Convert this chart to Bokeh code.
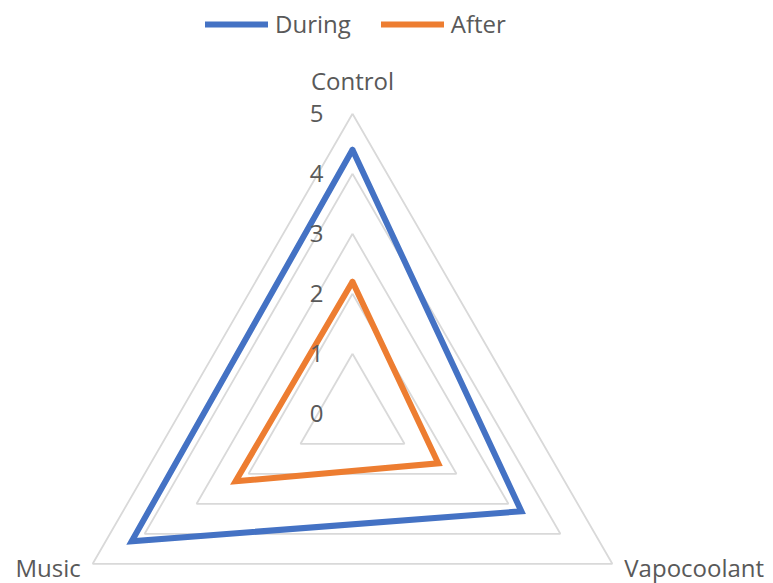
import numpy as np
from bokeh.plotting import figure
from bokeh.models import Range1d, Legend, LegendItem, ColumnDataSource
from bokeh.core.properties import value
from bokeh.embed import file_html
from bokeh.resources import INLINE

categories = ["Control", "Vapocoolant", "Music"]
during = [4.4, 3.25, 4.25]
after = [2.2, 1.65, 2.25]
ticks = [0, 1, 2, 3, 4, 5]
rmax = 5

FONT = "Open Sans"
TXT = "#595959"
W, H = 773, 583
UNIT = 60.0
CX, CY = 352.0, 413.3

angles = np.deg2rad([90, -30, 210])

def xy(vals):
    v = np.array(list(vals) + [vals[0]], dtype=float)
    a = np.concatenate([angles, angles[:1]])
    return v * np.cos(a), v * np.sin(a)

p = figure(width=W, height=H, output_backend="svg", toolbar_location=None,
           x_range=Range1d(-CX / UNIT, (W - CX) / UNIT),
           y_range=Range1d(-(H - CY) / UNIT, CY / UNIT),
           min_border=0)
p.axis.visible = False
p.xgrid.visible = False
p.ygrid.visible = False
p.outline_line_color = None
p.background_fill_color = "white"

# grid rings
for t in ticks[1:]:
    gx, gy = xy([t] * 3)
    p.line(gx, gy, line_color="#D9D9D9", line_width=1.8)

# series
dx, dy = xy(during)
ax, ay = xy(after)
r1 = p.line(dx, dy, line_color="#4472C4", line_width=6, line_join="miter")
r2 = p.line(ax, ay, line_color="#ED7D31", line_width=6, line_join="miter")

# tick labels
tsrc = ColumnDataSource(dict(x=[0] * len(ticks), y=ticks, t=[str(t) for t in ticks]))
p.text("x", "y", text="t", source=tsrc, text_font=value(FONT), text_font_size="24px",
       text_color=TXT, text_align="right", text_baseline="middle", x_offset=-29, y_offset=0)

# category labels
cx = [rmax * np.cos(a) for a in angles]
cy = [rmax * np.sin(a) for a in angles]
p.text([cx[0]], [cy[0]], text=[categories[0]], text_font=value(FONT), text_font_size="24px",
       text_color=TXT, text_align="center", text_baseline="alphabetic", y_offset=-33)
p.text([cx[1]], [cy[1]], text=[categories[1]], text_font=value(FONT), text_font_size="24px",
       text_color=TXT, text_align="left", text_baseline="alphabetic", x_offset=12, y_offset=4)
p.text([cx[2]], [cy[2]], text=[categories[2]], text_font=value(FONT), text_font_size="24px",
       text_color=TXT, text_align="right", text_baseline="alphabetic", x_offset=-12, y_offset=4)

legend = Legend(items=[LegendItem(label="During", renderers=[r1]),
                       LegendItem(label="After", renderers=[r2])],
                orientation="horizontal", location=(205, 543),
                glyph_width=63, glyph_height=20, label_standoff=7, spacing=30,
                padding=0, margin=0, border_line_color=None, background_fill_alpha=0,
                label_text_font=FONT, label_text_font_size="24px", label_text_color=TXT)
p.add_layout(legend)
r1.glyph.line_cap = "round"
r2.glyph.line_cap = "round"

open("out.html", "w").write(file_html(p, INLINE))
